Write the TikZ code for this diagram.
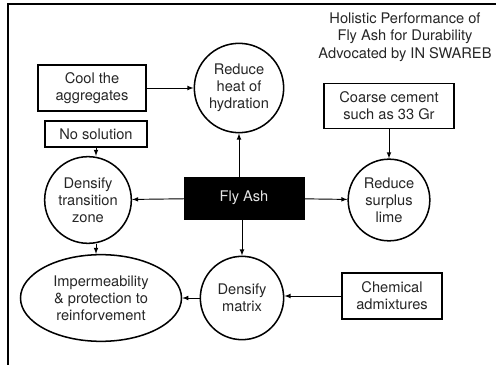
\documentclass[tikz,border=0pt]{standalone}
\usepackage{fontspec}
\setmainfont{TeX Gyre Heros}
\usetikzlibrary{arrows,shapes.geometric}

\begin{document}
\begin{tikzpicture}[x=0.03cm, y=-0.03cm,
  every node/.style={font=\fontsize{12.5}{14.5}\selectfont, align=center, text=black!85},
  rbox/.style={draw, line width=1.3pt, inner sep=2pt},
  rcirc/.style={draw, circle, line width=1.3pt, inner sep=0pt, minimum size=2.55cm},
  conn/.style={->, >=latex, line width=0.8pt}]

\useasboundingbox (0,0) rectangle (496,365);

% frame
\draw[line width=1.2pt] (8,365) -- (8,4) -- (496,4);

\node[font=\fontsize{12.5}{15}\selectfont] (title) at (405,37) {Holistic Performance of\\Fly Ash for Durability\\Advocated by IN SWAREB};

\node[rbox, minimum width=3.25cm, minimum height=1.38cm] (cool) at (92,88) {Cool the\\aggregates};
\node[rbox, minimum width=3.05cm, minimum height=0.78cm] (nosol) at (96,134) {No solution};
\node[rcirc, minimum size=2.68cm] (heat) at (239,88) {Reduce\\heat of\\hydration};
\node[rbox, minimum width=3.9cm, minimum height=1.35cm] (coarse) at (389,106) {Coarse cement\\such as 33 Gr};

\node[draw, fill=black, minimum width=3.6cm, minimum height=1.26cm, text=white!90!black] (fly) at (244,198) {Fly Ash};

\node[rcirc, minimum size=2.6cm] (trans) at (88,200) {Densify\\transition\\zone};
\node[rcirc, minimum size=2.45cm] (lime) at (389,200) {Reduce\\surplus\\lime};

\node[draw, ellipse, line width=1.3pt, inner sep=0pt, minimum width=4.83cm, minimum height=2.6cm] (imper) at (101,298) {Impermeability\\\& protection to\\reinforvement};
\node[rcirc, minimum size=2.5cm] (matrix) at (242,298) {Densify\\matrix};
\node[rbox, minimum width=3cm, minimum height=1.38cm] (chem) at (392,296) {Chemical\\admixtures};

% connectors
\draw[conn] (cool) -- (heat);
\draw[conn] (fly.north -| heat) -- (heat.south);
\draw[conn] (nosol.south) -- (nosol.south |- trans.north);
\draw[conn] (fly) -- (trans);
\draw[conn] (fly) -- (lime);
\draw[conn] (coarse) -- (lime);
\draw[conn] (fly.south -| matrix) -- (matrix.north);
\draw[conn] (trans.south -| nosol.south) -- (nosol.south |- imper.north);
\draw[conn] (matrix) -- (imper);
\draw[conn] (chem) -- (chem -| matrix.east);

\end{tikzpicture}
\end{document}
